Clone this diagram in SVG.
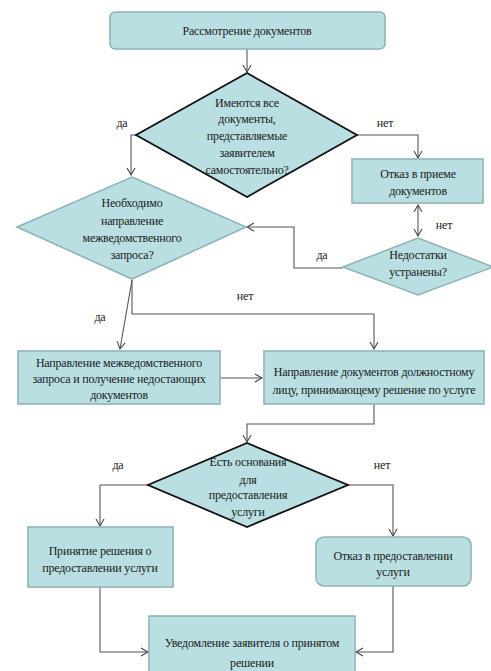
<svg xmlns="http://www.w3.org/2000/svg" width="491" height="671" viewBox="0 0 491 671" font-family="'Liberation Serif', 'Times New Roman', serif">
<style>
.n{fill:#b9dfe2;stroke:#8fb4b7;stroke-width:1.6}
.d{fill:#b9dfe2;stroke:#111;stroke-width:1.8}
.c{fill:none;stroke:#555;stroke-width:1.1}
text{font-family:'Liberation Serif','Times New Roman',serif;font-size:12px;fill:#1a1a1a;text-anchor:middle;letter-spacing:-0.2px}
</style>
<defs>
<marker id="a" markerWidth="10" markerHeight="10" refX="8" refY="5" orient="auto" markerUnits="userSpaceOnUse">
<path d="M1,1 L8,5 L1,9" fill="none" stroke="#444" stroke-width="1.1"/>
</marker>
<marker id="s" markerWidth="10" markerHeight="10" refX="2" refY="5" orient="auto" markerUnits="userSpaceOnUse">
<path d="M9,1 L2,5 L9,9" fill="none" stroke="#444" stroke-width="1.1"/>
</marker>
</defs>
<rect width="491" height="671" fill="#fff"/>
<g id="connectors">
<path class="c" d="M247,49 V72" marker-end="url(#a)"/>
<path class="c" d="M136,135 H131 V175" marker-end="url(#a)"/>
<path class="c" d="M357,135 H418 V158" marker-end="url(#a)"/>
<path class="c" d="M418,205 V236" marker-start="url(#s)" marker-end="url(#a)"/>
<path class="c" d="M343,268 H294 V227 H247" marker-end="url(#a)"/>
<path class="c" d="M132,280 L120,349" marker-end="url(#a)"/>
<path class="c" d="M132,280 V314 H374 V349" marker-end="url(#a)"/>
<path class="c" d="M220,378 H262" marker-end="url(#a)"/>
<path class="c" d="M374,404 V424 H247 V442" marker-end="url(#a)"/>
<path class="c" d="M148,485 H100 V526" marker-end="url(#a)"/>
<path class="c" d="M348,485 H393 V536" marker-end="url(#a)"/>
<path class="c" d="M100,587 V652 H148" marker-end="url(#a)"/>
<path class="c" d="M393,586 V652 H356" marker-end="url(#a)"/>
<text x="122" y="127">да</text>
<text x="385" y="127">нет</text>
<text x="444" y="229">нет</text>
<text x="322" y="259">да</text>
<text x="100" y="321">да</text>
<text x="245" y="300">нет</text>
<text x="118" y="469">да</text>
<text x="382" y="469">нет</text>
</g>
<g id="n1">
<rect class="n" x="110" y="12" width="275" height="37" rx="5"/>
<text x="247" y="35">Рассмотрение документов</text>
</g>
<g id="n2">
<polygon class="d" points="247,73 357,135 247,197 136,135"/>
<text x="247" y="107">Имеются все</text>
<text x="247" y="123">документы,</text>
<text x="247" y="140">представляемые</text>
<text x="247" y="157">заявителем</text>
<text x="247" y="174">самостоятельно?</text>
</g>
<g id="n3">
<rect class="n" x="352" y="159" width="131" height="44"/>
<text x="418" y="178">Отказ в приеме</text>
<text x="418" y="195">документов</text>
</g>
<g id="n4">
<polygon class="n" points="132,177 246,227 132,279 17,227"/>
<text x="132" y="207">Необходимо</text>
<text x="132" y="225">направление</text>
<text x="132" y="242">межведомственного</text>
<text x="132" y="259">запроса?</text>
</g>
<g id="n5">
<polygon class="n" points="418,238 493,267 418,295 343,267"/>
<text x="418" y="259">Недостатки</text>
<text x="418" y="276">устранены?</text>
</g>
<g id="n6">
<rect class="n" x="18" y="351" width="202" height="53"/>
<text x="119" y="367">Направление межведомственного</text>
<text x="119" y="383">запроса и получение недостающих</text>
<text x="119" y="399">документов</text>
</g>
<g id="n7">
<rect class="n" x="264" y="351" width="220" height="53"/>
<text x="374" y="376">Направление документов должностному</text>
<text x="374" y="394">лицу, принимающему решение по услуге</text>
</g>
<g id="n8">
<polygon class="d" points="247,443 348,485 247,527 148,485"/>
<text x="248" y="466">Есть основания</text>
<text x="248" y="484">для</text>
<text x="248" y="499">предоставления</text>
<text x="248" y="516">услуги</text>
</g>
<g id="n9">
<rect class="n" x="28" y="527" width="145" height="60"/>
<text x="100" y="555">Принятие решения о</text>
<text x="100" y="572">предоставлении услуги</text>
</g>
<g id="n10">
<rect class="n" x="316" y="537" width="155" height="49" rx="8"/>
<text x="393" y="560">Отказ в предоставлении</text>
<text x="393" y="576">услуги</text>
</g>
<g id="n11">
<rect class="n" x="149" y="616" width="206" height="60"/>
<text x="252" y="647">Уведомление заявителя о принятом</text>
<text x="252" y="667">решении</text>
</g>
</svg>
